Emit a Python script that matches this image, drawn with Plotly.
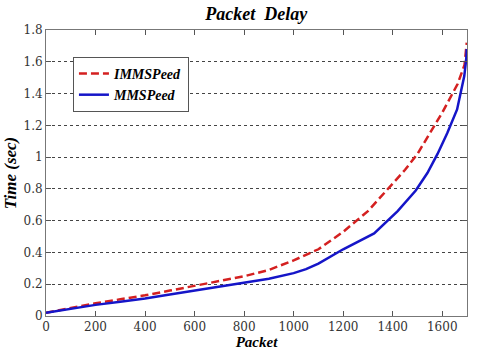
import plotly.graph_objects as go

packets_im = [0, 100, 200, 300, 400, 500, 600, 700, 800, 900, 1000, 1100, 1200, 1300, 1385, 1450, 1500, 1567, 1600, 1662, 1690, 1699]
imms = [0.02, 0.05, 0.08, 0.105, 0.13, 0.16, 0.19, 0.22, 0.25, 0.29, 0.35, 0.42, 0.53, 0.66, 0.81, 0.92, 1.02, 1.2, 1.28, 1.46, 1.58, 1.72]

packets_mm = [0, 100, 200, 300, 400, 500, 600, 700, 800, 900, 1000, 1050, 1100, 1200, 1325, 1420, 1493, 1540, 1581, 1620, 1660, 1689, 1697, 1699]
mms = [0.02, 0.045, 0.07, 0.09, 0.11, 0.135, 0.16, 0.185, 0.21, 0.235, 0.27, 0.295, 0.33, 0.42, 0.52, 0.66, 0.79, 0.9, 1.02, 1.15, 1.3, 1.51, 1.62, 1.68]

tick_font = "DejaVu Serif"
label_font = "Liberation Serif"

fig = go.Figure()
fig.add_trace(go.Scatter(x=packets_im, y=imms, mode="lines", name="<b><i>IMMSPeed</i></b>",
                         line=dict(color="#d42020", width=2.5, dash="8px,4px")))
fig.add_trace(go.Scatter(x=packets_mm, y=mms, mode="lines", name="<b><i>MMSPeed</i></b>",
                         line=dict(color="#1515c8", width=2.5)))

fig.update_layout(
    width=479, height=354,
    margin=dict(l=46, r=12, t=30, b=38, autoexpand=False),
    paper_bgcolor="white", plot_bgcolor="white",
    font=dict(family=tick_font, size=12, color="#333333"),
    title=dict(text="<b><i>Packet  Delay</i></b>", x=0.535, xanchor="center", y=0.96, yanchor="middle",
               font=dict(family=label_font, size=18, color="black")),
    legend=dict(x=0.064, y=0.906, xanchor="left", yanchor="top",
                bordercolor="#555555", borderwidth=1, bgcolor="white",
                font=dict(family=label_font, size=14, color="black"), tracegroupgap=0,
                itemwidth=30),
    showlegend=True,
)

fig.update_xaxes(range=[0, 1700], tickvals=[0, 200, 400, 600, 800, 1000, 1200, 1400, 1600],
                 ticks="inside", ticklen=5, tickcolor="#555555", showline=True, linecolor="#777777",
                 linewidth=1, mirror="ticks", showgrid=False, zeroline=False, automargin=False,
                 title=dict(text="<b><i>Packet</i></b>", standoff=0,
                            font=dict(family=label_font, size=15, color="black")))
fig.update_yaxes(range=[0, 1.8], dtick=0.2, tick0=0,
                 ticks="inside", ticklen=5, tickcolor="#555555", showline=True, linecolor="#777777",
                 linewidth=1, mirror="ticks", showgrid=True, gridcolor="#444444", griddash="dot",
                 gridwidth=1, zeroline=False, automargin=False,
                 title=dict(text="<b><i>Time (sec)</i></b>", standoff=2,
                            font=dict(family=label_font, size=17, color="black")))

fig.write_html("out.html", config={"displayModeBar": False},
               post_script="document.body.style.margin='0px';")
